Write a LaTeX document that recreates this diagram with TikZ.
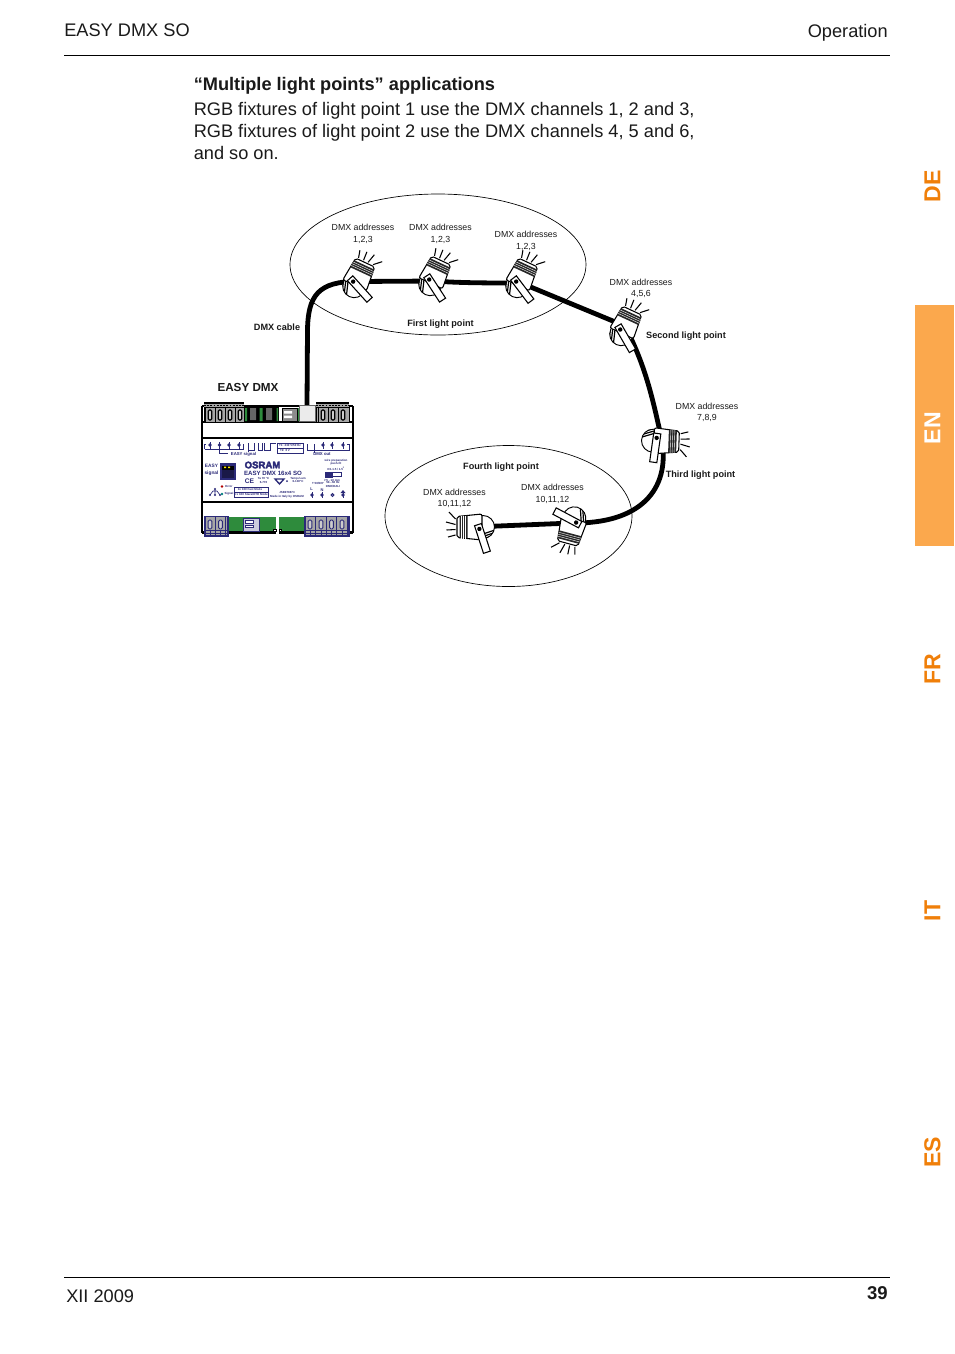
\documentclass[tikz,border=0pt]{standalone}
\usepackage{fontspec}
\setmainfont{Liberation Sans}
\definecolor{tabor}{HTML}{FBA84D}
\definecolor{tabtx}{HTML}{F07F09}
\definecolor{navy}{HTML}{2B2A78}
\definecolor{grn}{HTML}{2E8B3C}
\definecolor{txt}{HTML}{1A1A1A}
\newcommand{\fs}[2]{\fontsize{#1pt}{#2pt}\selectfont}
% spotlight: position, body rotation, bracket rotation
\newcommand{\spotlight}[3]{%
  \begin{scope}[shift={(#1)},rotate=#2]
    \foreach \s/\e/\v in {-8/-10/-26,-2.5/-3/-27.5,2.5/5/-28,8/15/-25}{\draw[ray] (\s,-18.5) -- (\e,\v);}
    \begin{scope}
      \clip (0,9) circle [radius=11.5];
      \fill[white] (-12,-3) rectangle (12,21);
      \foreach \h in {-13,-10.5,-8}{\draw[black,line width=.9pt] (\h,6) -- (\h+5,21);}
    \end{scope}
    \draw[black,line width=.7pt] (0,9) circle [radius=11.5];
    \fill[white,draw=black,line width=.8pt,rounded corners=1.5pt] (-10.5,-17) -- (10.5,-17) -- (13,8) -- (-13,8) -- cycle;
    \fill[black!85] (-10.7,-14.5) -- (10.7,-14.5) -- (11.5,-6.5) -- (-11.5,-6.5) -- cycle;
    \foreach \h in {-12.5,-10.5,-8.5}{\draw[white,line width=.3pt] (-11.5,\h) -- (11.5,\h);}
    \coordinate (pv) at (-2.4,5.5);
  \end{scope}
  \begin{scope}[shift={(pv)},rotate=#3]
    \draw[fill=white,line width=.8pt] (-3.6,-5) rectangle (3.6,24);
    \fill[black] (0,-.5) circle (2.2);
  \end{scope}}
\tikzset{
  x=.75pt,y=-.75pt,
  head/.style={inner sep=0,text=txt,font=\fs{13.65}{16.5}},
  dmxlab/.style={inner sep=0,align=center,text=txt,font=\fs{6.6}{8.6}},
  boldlab/.style={inner sep=0,text=txt,font=\fs{6.85}{8}\bfseries},
  tabl/.style={inner sep=0,rotate=90,text=tabtx,font=\fs{17.3}{20}\bfseries},
  rule/.style={line width=.7pt,black},
  oval/.style={draw=black,line width=.5pt},
  cable/.style={line width=3.6pt,black},
  ray/.style={line width=.8pt,black},
  term/.style={fill=black!35},
  mini/.style={inner sep=0,text=navy,font=\fs{2.2}{2.8}\bfseries,align=center},
  small/.style={inner sep=0,text=navy,font=\fs{3.2}{4.4}\bfseries,align=center},
  navl/.style={navy,line width=.7pt},
  dev/.style={black,line width=.8pt},
}
\begin{document}
\begin{tikzpicture}
\useasboundingbox[fill=white] (0,0) rectangle (954,1354);
% page furniture
\draw[rule] (64,55) -- (890,55);
\draw[rule] (64,1277) -- (890,1277);
\node[head,anchor=base west] (hl) at (64,36) {EASY DMX SO};
\node[head,anchor=base east] (hr) at (888,37) {Operation};
\node[head,anchor=base west] (foot) at (66,1302) {XII 2009};
\node[head,anchor=base east,font=\fs{13.9}{16}\bfseries] (pg) at (888,1299) {39};
\node[head,anchor=base west,font=\fs{13.65}{16.5}\bfseries] (title) at (193.5,90) {“Multiple light points” applications};
\node[head,anchor=base west] (l1) at (193.5,115) {RGB fixtures of light point 1 use the DMX channels 1, 2 and 3,};
\node[head,anchor=base west] (l2) at (193.5,137) {RGB fixtures of light point 2 use the DMX channels 4, 5 and 6,};
\node[head,anchor=base west] (l3) at (193.5,159) {and so on.};
% language tabs
\fill[tabor] (915,305) rectangle (954,546);
\node[tabl] (de) at (932.5,186.5) {DE};
\node[tabl,text=white] (en) at (932.5,428) {EN};
\node[tabl] (fr) at (932.5,669.5) {FR};
\node[tabl] (it) at (932.5,911) {IT};
\node[tabl] (es) at (932.5,1152) {ES};
% ellipses
\draw[oval] (438,264.5) ellipse [x radius=148,y radius=70.5];
\draw[oval] (508.5,516) ellipse [x radius=123.5,y radius=70.5];
% fixture anchors
\coordinate (f1) at (358,278);
\coordinate (f2) at (434,276);
\coordinate (f3) at (521,278);
\coordinate (f4) at (625,326);
\coordinate (f5) at (662,441);
\coordinate (f6) at (474,527);
\coordinate (f7) at (572,527);
\coordinate (dc) at (307,406);
\coordinate (c1) at (358,281.5);
\coordinate (c2) at (434,281);
\coordinate (c3) at (521,283);
\coordinate (c7) at (572,523);
% cables
\draw[cable] (dc) -- (307.5,330) .. controls (308,296) and (318,281) .. (c1);
\draw[cable] (c1) -- (c2);
\draw[cable] (c2) .. controls (460,283) and (490,283) .. (c3);
\draw[cable] (c3) -- (f4);
\draw[cable] (f4) .. controls (645,365) and (652,395) .. (f5);
\draw[cable] (f5) .. controls (670,490) and (640,524) .. (c7);
\draw[cable] (c7) -- (f6);
% fixtures
\spotlight{f1}{-25}{42}
\spotlight{f2}{-25}{33}
\spotlight{f3}{-25}{37}
\spotlight{f4}{-25}{30}
\spotlight{f5}{-92}{-8}
\spotlight{f6}{90}{18}
\spotlight{f7}{165}{-118}
% labels
\node[dmxlab] (d1) at (363,233.7) {DMX addresses\\1,2,3};
\node[dmxlab] (d2) at (440.5,233.7) {DMX addresses\\1,2,3};
\node[dmxlab] (d3) at (526,240.7) {DMX addresses\\1,2,3};
\node[dmxlab] (d4) at (641,288.2) {DMX addresses\\4,5,6};
\node[dmxlab] (d5) at (707,412.2) {DMX addresses\\7,8,9};
\node[dmxlab] (d6) at (454.5,498.2) {DMX addresses\\10,11,12};
\node[dmxlab] (d7) at (552.5,493.7) {DMX addresses\\10,11,12};
\node[boldlab] (b1) at (440.5,323.7) {First light point};
\node[boldlab] (b2) at (686,335.7) {Second light point};
\node[boldlab] (b3) at (700.5,474.7) {Third light point};
\node[boldlab] (b4) at (501,466.7) {Fourth light point};
\node[boldlab] (cab) at (277,327.3) {DMX cable};
\node[boldlab,font=\fs{8.75}{11}\bfseries] (ed) at (248,387) {EASY DMX};
% --- device ---
\fill[white] (202,406) rectangle (353,533);
\draw[dev] (202,406) -- (202,533) (353,406) -- (353,533);
\draw[dev] (202,406) -- (353,406) (202,422) -- (353,422) (202,438) -- (353,438) (202,502) -- (353,502);
% top strip
\fill[black] (244,407) rectangle (279,421.5);
\fill[black!60] (250,408) rectangle (256,420) (266,408) rectangle (272,420);
\fill[grn] (244,408) rectangle (247,421) (259.5,408) rectangle (262.5,421) (276.5,408) rectangle (278,421) (297,408) rectangle (299,421);
\fill[white] (279,407) rectangle (281,421);
\fill[black!45,draw=black,line width=.4pt] (282,408) rectangle (297,421);
\fill[white] (284,411) rectangle (292,413.5) (284,415.5) rectangle (292,418);
\fill[black!8,draw=black!60,line width=.3pt] (299,405) rectangle (315,421);
\foreach \xa/\xb in {204/244,316/349}{
  \fill[black!35] (\xa,402) rectangle (\xb,422);
  \draw[black,line width=.5pt] (\xa,407) rectangle (\xb,422);
  \fill[black] (\xa,402) rectangle (\xb,404);
  \draw[black,densely dotted,line width=1.4pt] (\xa,405.5) -- (\xb,405.5);
}
\foreach \x in {210,220,230,240,323,333,343}{
  \draw[black,line width=.9pt,fill=black!20,rounded corners=1pt] (\x-1.8,410) rectangle (\x+1.8,420);
  \draw[black,line width=.4pt] (\x-5,407) -- (\x-5,422);
}
% middle panel – terminals
\foreach \x in {210,219.5,229,239,323,332,343}{
  \fill[navy] (\x,445) circle (1.8);
  \fill[navy] (\x-.5,441.5) rectangle (\x+.5,449);
}
\draw[navl] (204.5,449) -- (204.5,444) -- (206,444) (204.5,449) -- (243,449) -- (243,444);
\draw[navl] (219,449) -- (219,453) -- (228,453) (248,453) -- (248,449);
\draw[navl] (258,443) -- (258,450) -- (262,450) -- (262,443) (248,443) -- (248,450) -- (254.5,450) -- (254.5,443);
\draw[navl] (264,443) -- (264,450) -- (270,450) -- (270,443) -- (276,443);
\draw[navl] (307,444) -- (307,450) -- (314,450) -- (314,444) (314,450) -- (349,450) -- (349,444) -- (347,444);
\draw[navl] (314,450) -- (314,454);
\draw[navl,fill=white] (277,443) rectangle (303,453);
\draw[navl,line width=.5pt] (277,448) -- (303,448);
\node[mini] (t1) at (290,445.6) {T1: 230 V/50 Hz};
\node[mini] (t2) at (285,450.6) {T2: 0 V};
\node[small,fill=white,inner xsep=.5pt] (es1) at (243.5,454) {EASY signal};
\node[small,fill=white,inner xsep=.5pt] (dmxo) at (322,454) {DMX out};
% left logo
\node[small,align=center,font=\fs{3.6}{5.6}\bfseries] (es2) at (211.5,470) {EASY\\signal};
\fill[navy] (220,463) rectangle (236,480);
\fill[black] (222,466) rectangle (234,478);
\fill[navy!60!black] (222,470) rectangle (234,478);
\fill[yellow!90!orange] (224,466.5) rectangle (226,468) (228,466.5) rectangle (230,468);
\node[inner sep=0,text=navy,font=\fs{7.2}{8}\bfseries,draw=none] (osr) at (262.5,465) {\special{pdf:literal direct 2 Tr 0.25 w}OSRAM\special{pdf:literal direct 0 Tr}};
\node[inner sep=0,text=navy,font=\fs{4.6}{5}\bfseries] (mdl) at (273,473.5) {EASY DMX 16x4 SO};
\node[inner sep=0,text=navy,font=\fs{5}{6}\bfseries] (ce) at (249.5,481) {CE};
\node[mini,font=\fs{2.2}{3.4}\bfseries] (ta) at (263.5,480.3) {Ta 70 °C\\6-770};
\draw[navy,line width=1pt,fill=white] (275,479) -- (284,479) -- (279.5,484) -- cycle;
\fill[navy] (287,481) circle (1);
\node[mini] (temp) at (298,480) {Temp./Lum\\6-130°C};
% network icon and LEDs
\fill[navy] (215,489) circle (1.2) (210,495) circle (1.2) (215,495) circle (1.2) (220,495) circle (1.2);
\draw[navl,line width=.5pt] (215,489) -- (215,495) (210,495) -- (213,491) -- (217,491) -- (220,495);
\fill[red!70!black] (222,486.5) circle (1.4);
\fill[teal] (222,494) circle (1.4);
\node[mini] (err) at (229,486.5) {Error};
\node[mini] (sig) at (229,494) {Signal};
\draw[navl,line width=.5pt,fill=white] (234,487) rectangle (268,497);
\draw[navl,line width=.5pt] (234,492) -- (268,492);
\node[mini] (m1) at (250,489.8) {1x 100 Fast Mode};
\node[mini] (m2) at (251,494.6) {4 x 100 Slave/DTR Mode};
\node[mini] (mk) at (287,495) {JSB978873\\Made in Italy by OSRAM};
% right column
\node[mini] (wp) at (336,465) {wire preparation\\push-fit\\0.5-1.5 / 1.5\textsuperscript{2}};
\draw[navl,line width=.4pt] (325,472) rectangle (341,476);
\fill[navy] (325,473) rectangle (333,478);
\node[mini] (mm) at (332,480) {7.5 - 10 mm};
\node[mini] (cur) at (333,484.5) {50...60 Hz\\DMX/DALI};
\node[mini] (vt) at (318,483.5) {T 50/60Y};
\node[mini,font=\fs{3}{4}\bfseries] (ll) at (311.5,489) {L};
\node[mini,font=\fs{3}{4}\bfseries] (nn) at (322,490) {N};
\foreach \x in {312,322,343}{\fill[navy] (\x,495) circle (1.8);\fill[navy] (\x-.4,492) rectangle (\x+.4,498);}
\draw[navy,fill=white,line width=.7pt] (332.5,495) circle (1.4);
\fill[navy] (343,490) -- (345.5,493) -- (340.5,493) -- cycle;
% bottom strip
\fill[grn] (227,517) rectangle (276,531.5) (279,517) rectangle (306,531.5);
\fill[black] (202,531) rectangle (353,534);
\fill[white] (276,517) rectangle (279,534);
\draw[black,line width=.4pt,fill=white] (273,529.5) rectangle (276,531.5) (279,529.5) rectangle (281,531.5);
\fill[navy!25,draw=navy,line width=.7pt] (243,518) rectangle (259,531);
\fill[white,draw=navy,line width=.4pt] (245,520.5) rectangle (253,523) (245,525) rectangle (253,527.5);
\foreach \xa/\xb in {205/228,305/349}{
  \fill[term,draw=navy,line width=.9pt] (\xa,516.5) rectangle (\xb,536);
  \draw[navy,line width=.5pt] (\xa,530) -- (\xb,530) (\xa,533) -- (\xb,533);
}
\foreach \x in {210,220.5,310,321,331.5,342}{
  \draw[navy,line width=.7pt,fill=black!20,rounded corners=1pt] (\x-1.8,520) rectangle (\x+1.8,529);
  \draw[navy,line width=.5pt] (\x+5,516.5) -- (\x+5,536) (\x,530) -- (\x,536);
}
\end{tikzpicture}
\end{document}
